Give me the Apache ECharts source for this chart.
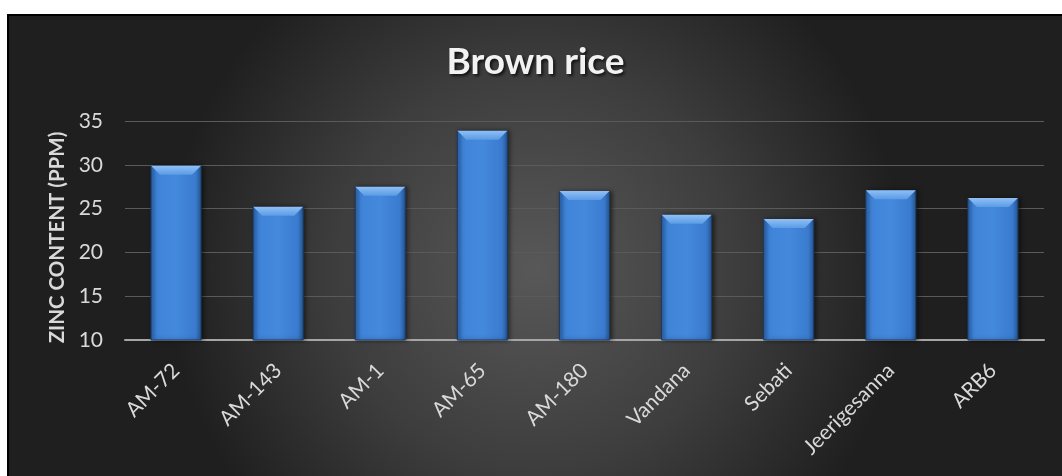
<!DOCTYPE html>
<html>
<head>
<meta charset="utf-8">
<script src="https://cdn.jsdelivr.net/npm/echarts@6/dist/echarts.min.js"></script>
<style>
html,body{margin:0;padding:0;background:#fff;width:1062px;height:476px;overflow:hidden;}
#c{position:absolute;left:7px;top:14px;width:1055px;height:462px;box-sizing:border-box;border-left:2px solid #000;border-top:2px solid #000;}
</style>
</head>
<body>
<div id="c"></div>
<script>
const categories = ['AM-72','AM-143','AM-1','AM-65','AM-180','Vandana','Sebati','Jeerigesanna','ARB6'];
const zincValues = [29.9, 25.2, 27.5, 33.9, 27.0, 24.3, 23.8, 27.1, 26.2];
const chartTitle = 'Brown rice';
const yAxisName = 'ZINC CONTENT (PPM)';

const chart = echarts.init(document.getElementById('c'), null, {renderer:'canvas'});
chart.setOption({
  backgroundColor: {
    type:'radial', x:0.5, y:0.55, r:0.8,
    colorStops:[{offset:0,color:'#585858'},{offset:0.55,color:'#3d3d3d'},{offset:1,color:'#1f1f1f'}]
  },
  animation:false,
  title:{
    text: chartTitle, left:'center', top:23,
    textStyle:{color:'#f2f2f2', fontFamily:'Lato', fontWeight:'bold', fontSize:37,
      textShadowColor:'rgba(0,0,0,0.7)', textShadowOffsetX:2, textShadowOffsetY:2, textShadowBlur:3}
  },
  grid:{left:116, right:18, top:105, bottom:136, containLabel:false},
  xAxis:{
    type:'category', data:categories,
    axisLine:{show:true, lineStyle:{color:'#a6a6a6', width:2}},
    axisTick:{show:false},
    axisLabel:{color:'#d9d9d9', fontFamily:'Lato', fontSize:21, rotate:45, margin:27, interval:0}
  },
  yAxis:{
    type:'value', min:10, max:35, interval:5,
    name: yAxisName, nameLocation:'middle', nameGap:56, nameRotate:90,
    nameTextStyle:{color:'#d9d9d9', fontFamily:'Lato', fontWeight:'bold', fontSize:20.5, padding:[0,14,0,0]},
    axisLine:{show:false}, axisTick:{show:false},
    axisLabel:{color:'#d9d9d9', fontFamily:'Lato', fontSize:21, margin:22},
    splitLine:{lineStyle:{color:'#5a5a5a', width:1}}
  },
  series:[{
    type:'bar', data:zincValues, barWidth:'50%', barGap:'-100%', z:2,
    itemStyle:{
      color:{type:'linear', x:0, y:0, x2:1, y2:0,
        colorStops:[{offset:0,color:'#2c63ad'},{offset:0.12,color:'#3f84d8'},{offset:0.5,color:'#4489dc'},{offset:0.88,color:'#3a7bcf'},{offset:1,color:'#25558f'}]},
      borderColor:'#1c3a63', borderWidth:1,
      shadowColor:'rgba(0,0,0,0.5)', shadowBlur:4, shadowOffsetX:2, shadowOffsetY:0
    }
  },{
    type:'pictorialBar', data:zincValues, barWidth:'50%', barGap:'-100%', z:3,
    symbol:'path://M0,0 L100,0 L82,18 L18,18 Z',
    symbolSize:[50,9], symbolPosition:'end', symbolOffset:[0,0],
    itemStyle:{color:{type:'linear', x:0, y:0, x2:0, y2:1,
      colorStops:[{offset:0,color:'#8fc0f5'},{offset:1,color:'#5b9be6'}]}},
    silent:true
  }]
});
</script>
</body>
</html>
